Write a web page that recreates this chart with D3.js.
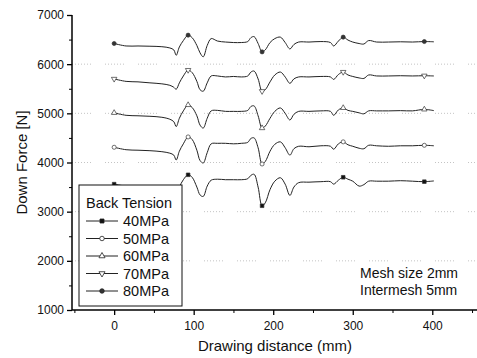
<!DOCTYPE html>
<html>
<head>
<meta charset="utf-8">
<script src="https://cdn.jsdelivr.net/npm/d3@7"></script>
<style>
  body { margin: 0; background: #fff; }
  text { font-family: "Liberation Sans", Arial, sans-serif; fill: #111; }
</style>
</head>
<body>
<div id="chart-container"></div>
<script>
// Drawing distance (mm) shared by all series
const distance = [0, 15, 30, 45, 60, 70, 75, 78, 82, 87, 93, 98, 104, 108, 112, 117, 122, 130, 140, 150,
  160, 168, 172, 176, 181, 186, 190, 196, 202, 209, 215, 221, 226, 232, 245, 260, 272, 276, 282, 288,
  294, 300, 308, 314, 320, 330, 345, 360, 375, 390, 402];

// Down force (N) for each back tension
const force40 = [3560, 3520, 3510, 3500, 3480, 3460, 3420, 3330, 3500, 3650, 3750, 3700, 3500, 3340, 3310, 3520, 3640, 3660, 3650, 3650,
  3650, 3670, 3740, 3760, 3500, 3120, 3180, 3450, 3620, 3690, 3560, 3330, 3500, 3590, 3600, 3610, 3610, 3560, 3640, 3700,
  3660, 3620, 3520, 3550, 3620, 3620, 3620, 3630, 3620, 3610, 3625];
const force50 = [4310, 4260, 4250, 4240, 4220, 4190, 4150, 4050, 4230, 4380, 4520, 4470, 4250, 4040, 3990, 4200, 4380, 4390, 4390, 4380,
  4390, 4410, 4490, 4500, 4300, 3970, 4020, 4230, 4370, 4420, 4300, 4150, 4280, 4330, 4320, 4340, 4330, 4270, 4380, 4420,
  4360, 4330, 4290, 4280, 4350, 4340, 4330, 4340, 4340, 4350, 4340];
const force60 = [5010, 4960, 4950, 4940, 4920, 4880, 4830, 4730, 4900, 5050, 5170, 5120, 4950, 4760, 4700, 4900, 5050, 5060, 5040, 5040,
  5040, 5060, 5140, 5150, 4950, 4700, 4740, 4900, 5040, 5110, 5000, 4865, 4980, 5040, 5040, 5050, 5040, 4960, 5070, 5110,
  5060, 5040, 5010, 4990, 5050, 5050, 5050, 5055, 5050, 5080, 5055];
const force70 = [5700, 5650, 5640, 5620, 5600, 5570, 5530, 5490, 5620, 5760, 5880, 5830, 5650, 5480, 5450, 5620, 5760, 5760, 5740, 5750,
  5740, 5760, 5840, 5860, 5700, 5450, 5480, 5640, 5780, 5840, 5740, 5610, 5700, 5740, 5740, 5750, 5740, 5690, 5790, 5840,
  5780, 5750, 5720, 5710, 5780, 5760, 5760, 5765, 5760, 5765, 5760];
const force80 = [6420, 6370, 6370, 6365, 6355, 6330, 6290, 6180, 6350, 6480, 6590, 6540, 6380, 6230, 6150, 6380, 6520, 6470, 6450, 6440,
  6440, 6460, 6540, 6560, 6420, 6250, 6290, 6440, 6520, 6550, 6440, 6310, 6400, 6450, 6450, 6460, 6440, 6370, 6470, 6550,
  6490, 6450, 6420, 6410, 6480, 6450, 6450, 6455, 6450, 6460, 6455];

const seriesNames = ["40MPa", "50MPa", "60MPa", "70MPa", "80MPa"];
const markerDistances = [0, 93, 186, 288, 390];
const yTicks = [1000, 2000, 3000, 4000, 5000, 6000, 7000];
const xTicks = [0, 100, 200, 300, 400];
const notes = ["Mesh size 2mm", "Intermesh 5mm"];

const width = 477, height = 358;
const margin = { top: 15, left: 72, bottom: 48 };

const series = [force40, force50, force60, force70, force80].map((vals, i) => ({
  name: seriesNames[i],
  points: distance.map((d, j) => ({ x: d, y: vals[j] }))
}));

const xScale = d3.scaleLinear().domain([-53, 460]).range([margin.left, margin.left + 408]);
const yScale = d3.scaleLinear().domain([1000, 7000]).range([height - margin.bottom, margin.top]);

const svg = d3.select("#chart-container").append("svg")
  .attr("width", width)
  .attr("height", height);

// Dotted grid lines (faint, broken)
svg.append("g")
  .selectAll("line")
  .data(yTicks.filter(t => t > 1000 && t < 7000))
  .join("line")
  .attr("x1", margin.left)
  .attr("x2", xScale(455))
  .attr("y1", d => yScale(d))
  .attr("y2", d => yScale(d))
  .attr("stroke", "#aaa")
  .attr("stroke-width", 0.7)
  .attr("stroke-dasharray", "1,2,1,2,1,2,1,2,1,2,1,2,1,14");

// Markers
const symbolFor = {
  "40MPa": { type: d3.symbolSquare, fill: "#111" },
  "50MPa": { type: d3.symbolCircle, fill: "#fff" },
  "60MPa": { type: d3.symbolTriangle, fill: "#fff" },
  "70MPa": { type: d3.symbolTriangle, fill: "#fff", rotate: 180 },
  "80MPa": { type: d3.symbolCircle, fill: "#333" }
};

const line = d3.line()
  .curve(d3.curveCatmullRom.alpha(0.5))
  .x(d => xScale(d.x)).y(d => yScale(d.y));

series.forEach(s => {
  svg.append("path")
    .datum(s.points)
    .attr("fill", "none")
    .attr("stroke", "#222")
    .attr("stroke-width", 1)
    .attr("d", line);

  const sym = symbolFor[s.name];
  svg.append("g")
    .selectAll("path")
    .data(s.points.filter(p => markerDistances.includes(p.x)))
    .join("path")
    .attr("d", d3.symbol().type(sym.type).size(13))
    .attr("transform", d => `translate(${xScale(d.x)},${yScale(d.y)}) rotate(${sym.rotate || 0})`)
    .attr("fill", sym.fill)
    .attr("stroke", "#333")
    .attr("stroke-width", 0.7);
});

// Axes
const yAxis = d3.axisLeft(yScale).tickValues(yTicks).tickSize(5).tickPadding(3).tickFormat(d3.format("d"));
const gy = svg.append("g").attr("transform", `translate(${margin.left},0)`).call(yAxis);
gy.selectAll(".tick line").attr("stroke-width", 1.3);
gy.select(".domain").attr("stroke-width", 1.5).attr("d", `M0,${yScale(1000)}V${yScale(7000)}`);
gy.selectAll("text").attr("font-size", "12px").attr("font-family", "Liberation Sans, Arial, sans-serif");
svg.append("g").attr("transform", `translate(${margin.left},0)`)
  .call(d3.axisLeft(yScale).tickValues(d3.range(1500, 7000, 1000)).tickSize(3).tickFormat(""))
  .call(g => g.select(".domain").remove());

const xAxis = d3.axisBottom(xScale).tickValues(xTicks).tickSize(5).tickPadding(6);
const gx = svg.append("g").attr("transform", `translate(0,${yScale(1000)})`).call(xAxis);
gx.selectAll(".tick line").attr("stroke-width", 1.3);
gx.select(".domain").attr("stroke-width", 1.5).attr("d", `M${margin.left},0H${width}`);
gx.selectAll("text").attr("font-size", "12px").attr("font-family", "Liberation Sans, Arial, sans-serif");
svg.append("g").attr("transform", `translate(0,${yScale(1000)})`)
  .call(d3.axisBottom(xScale).tickValues([-50, 50, 150, 250, 350, 450]).tickSize(3).tickFormat(""))
  .call(g => g.select(".domain").remove());

// Axis labels
svg.append("text")
  .attr("x", -(yScale(1000) + yScale(7000)) / 2)
  .attr("y", 27)
  .attr("transform", "rotate(-90)")
  .attr("text-anchor", "middle")
  .attr("font-size", "15px")
  .text("Down Force [N]");

svg.append("text")
  .attr("x", 275)
  .attr("y", 351)
  .attr("text-anchor", "middle")
  .attr("font-size", "15px")
  .text("Drawing distance (mm)");

// Legend
const legend = svg.append("g").attr("transform", "translate(79,185)");
legend.append("rect")
  .attr("width", 103).attr("height", 121)
  .attr("fill", "#fff").attr("stroke", "#111").attr("stroke-width", 1);
legend.append("text").attr("x", 7).attr("y", 23).attr("font-size", "14.5px").text("Back Tension");
const items = legend.selectAll(".item")
  .data(seriesNames)
  .join("g")
  .attr("class", "item")
  .attr("transform", (d, i) => `translate(0,${36 + i * 17.5})`);
items.append("line").attr("x1", 7).attr("x2", 39).attr("stroke", "#222").attr("stroke-width", 1);
items.append("path")
  .attr("d", d => d3.symbol().type(symbolFor[d].type).size(16)())
  .attr("transform", d => `translate(23,0) rotate(${symbolFor[d].rotate || 0})`)
  .attr("fill", d => symbolFor[d].fill)
  .attr("stroke", "#222").attr("stroke-width", 0.8);
items.append("text").attr("x", 44).attr("y", 5).attr("font-size", "14.5px").text(d => d);

// Notes
svg.append("g").selectAll("text")
  .data(notes)
  .join("text")
  .attr("x", 360)
  .attr("y", (d, i) => 278 + i * 17)
  .attr("font-size", "14px")
  .text(d => d);
</script>
</body>
</html>
